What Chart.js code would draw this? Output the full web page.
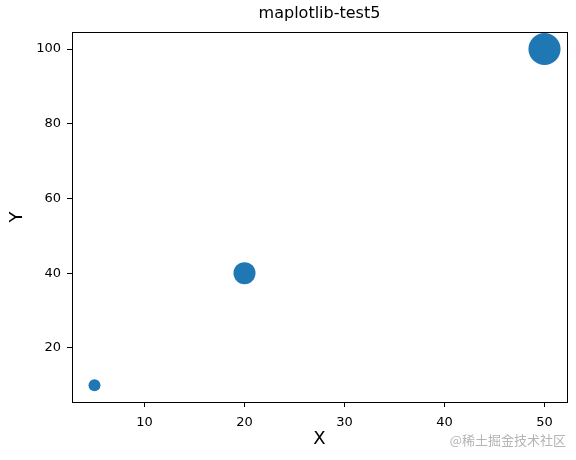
<!DOCTYPE html>
<html>
<head>
<meta charset="utf-8">
<script src="https://cdn.jsdelivr.net/npm/chart.js@4/dist/chart.umd.min.js"></script>
<style>
  html, body { margin: 0; padding: 0; background: #fff; }
  #chart { display: block; }
</style>
</head>
<body>
<canvas id="chart" width="576" height="460"></canvas>
<script>
// data
const xs = [5, 20, 50];
const ys = [10, 40, 100];
const sizes = [92, 310, 660]; // marker sizes (matplotlib "s", points^2)
const xTicks = [10, 20, 30, 40, 50];
const yTicks = [20, 40, 60, 80, 100];
const titleText = 'maplotlib-test5';
const xLabel = 'X';
const yLabel = 'Y';
const watermark = '@稀土掘金技术社区';

const points = xs.map((x, i) => ({ x: x, y: ys[i] }));

// frame round the plot + watermark
const extras = {
  id: 'extras',
  afterDraw(chart) {
    const c = chart.ctx;
    const a = chart.chartArea;
    c.save();
    c.strokeStyle = '#000';
    c.lineWidth = 1;
    c.strokeRect(Math.round(a.left) + 0.5, Math.round(a.top) + 0.5,
                 Math.round(a.right - a.left), Math.round(a.bottom - a.top));
    c.fillStyle = '#b4b4b4';
    c.font = '13px "Noto Sans CJK SC"';
    c.textAlign = 'right';
    c.textBaseline = 'middle';
    c.fillText(watermark, 566, 440);
    c.restore();
  }
};

const ctx = document.getElementById('chart').getContext('2d');
const myChart = new Chart(ctx, {
  type: 'scatter',
  data: {
    datasets: [{
      data: points,
      backgroundColor: '#1f77b4',
      borderColor: '#1f77b4',
      borderWidth: 0,
      pointRadius: c => Math.sqrt(sizes[c.dataIndex]) * 0.625,
      pointHoverRadius: c => Math.sqrt(sizes[c.dataIndex]) * 0.625,
      clip: false
    }]
  },
  options: {
    responsive: false,
    animation: false,
    events: [],
    layout: { autoPadding: false, padding: { left: 0, right: 9, top: 0, bottom: 0 } },
    plugins: {
      legend: { display: false },
      tooltip: { enabled: false },
      title: {
        display: true,
        text: titleText,
        fullSize: false,
        color: '#000',
        font: { family: 'DejaVu Sans', size: 16, weight: 'normal' },
        padding: { top: 4, bottom: 9 }
      }
    },
    scales: {
      x: {
        type: 'linear',
        min: 2.75,
        max: 52.25,
        afterBuildTicks: s => { s.ticks = xTicks.map(v => ({ value: v })); },
        afterFit: s => { s.height = 58; s.paddingLeft = 0; s.paddingRight = 0; },
        border: { display: true, color: '#000', width: 1 },
        grid: { display: true, drawOnChartArea: false, drawTicks: true, tickLength: 5, color: '#000' },
        ticks: { color: '#000', padding: 8, font: { family: 'DejaVu Sans', size: 13 }, maxRotation: 0 },
        title: {
          display: true, text: xLabel, color: '#000',
          font: { family: 'DejaVu Sans', size: 18 },
          padding: { top: 0, bottom: 10 }
        }
      },
      y: {
        type: 'linear',
        min: 5.5,
        max: 104.5,
        afterBuildTicks: s => { s.ticks = yTicks.map(v => ({ value: v })); },
        afterFit: s => { s.width = 72; s.paddingTop = 0; s.paddingBottom = 0; },
        border: { display: true, color: '#000', width: 1 },
        grid: { display: true, drawOnChartArea: false, drawTicks: true, tickLength: 5, color: '#000' },
        ticks: { color: '#000', padding: 6, font: { family: 'DejaVu Sans', size: 13 } },
        title: {
          display: true, text: yLabel, color: '#000',
          font: { family: 'DejaVu Sans', size: 18 },
          padding: { top: 7, bottom: 0 }
        }
      }
    }
  },
  plugins: [extras]
});
</script>
</body>
</html>
